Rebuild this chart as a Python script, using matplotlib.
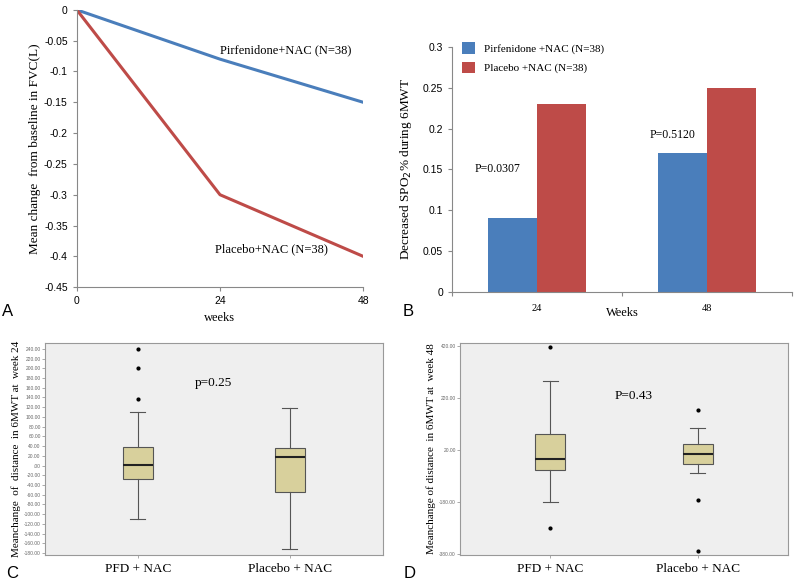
import matplotlib
matplotlib.use("Agg")
import matplotlib.pyplot as plt
import numpy as np

# Panel A: mean change in FVC (L)
weeks = [0, 24, 48]
fvc_pfd = [0, -0.08, -0.15]
fvc_placebo = [0, -0.30, -0.40]

# Panel B: decreased SpO2 % during 6MWT
spo2_weeks = ["24", "48"]
spo2_pfd = [0.09, 0.17]
spo2_placebo = [0.23, 0.25]
spo2_pvals = ["P=0.0307", "P=0.5120"]

# Panel C / D: box plots (whislo, q1, med, q3, whishi, outliers)
groups = ["PFD + NAC", "Placebo + NAC"]
w24_pfd = [-111, -28, 2, 38, 110, [137, 201, 240]]
w24_placebo = [-171, -55, 17, 37, 119, []]
w48_pfd = [-180, -58, -15, 80, 284, [417, -280]]
w48_placebo = [-68, -35, 5, 43, 103, [174, -174, -367]]

BLUE = "#4a7ebb"
RED = "#be4b48"
SERIF = "Liberation Serif"
SANS = "Liberation Sans"

fig = plt.figure(figsize=(8, 5.79), dpi=100)

# ---- A ----
axA = fig.add_axes([0.096, 0.504, 0.358, 0.479])
axA.plot(weeks, fvc_pfd, color=BLUE, lw=2.2)
axA.plot(weeks, fvc_placebo, color=RED, lw=2.2)
axA.set_xlim(0, 48)
axA.set_ylim(-0.45, 0)
axA.set_yticks(np.arange(-0.45, 0.001, 0.05))
axA.set_yticklabels(["-0.45", "-0.4", "-0.35", "-0.3", "-0.25", "-0.2", "-0.15", "-0.1", "-0.05", "0"],
                    fontsize=7.5, family=SANS)
axA.set_xticks(weeks)
axA.set_xticklabels([str(w) for w in weeks], fontsize=7.5, family=SANS)
for s in ["top", "right"]:
    axA.spines[s].set_visible(False)
for s in ["left", "bottom"]:
    axA.spines[s].set_color("#888888")
axA.tick_params(colors="#888888", labelcolor="black", length=3)
axA.set_xlabel("weeks", fontsize=9, family=SERIF, labelpad=4)
axA.set_ylabel("Mean change  from baseline in FVC(L)", fontsize=9.5, family=SERIF, labelpad=2)
axA.text(0.73, 0.853, "Pirfenidone+NAC (N=38)", transform=axA.transAxes, ha="center",
         va="center", fontsize=9, family=SERIF)
axA.text(0.68, 0.138, "Placebo+NAC (N=38)", transform=axA.transAxes, ha="center",
         va="center", fontsize=9, family=SERIF)

# ---- B ----
axB = fig.add_axes([0.565, 0.496, 0.425, 0.423])
x = np.arange(len(spo2_weeks))
bw = 0.288
axB.bar(x - bw / 2, spo2_pfd, bw, color=BLUE, label="Pirfenidone +NAC (N=38)")
axB.bar(x + bw / 2, spo2_placebo, bw, color=RED, label="Placebo +NAC (N=38)")
axB.set_xlim(-0.5, 1.5)
axB.set_ylim(0, 0.3)
axB.set_yticks(np.arange(0, 0.301, 0.05))
axB.set_yticklabels(["0", "0.05", "0.1", "0.15", "0.2", "0.25", "0.3"], fontsize=7.5, family=SANS)
axB.set_xticks([-0.5, 0.5, 1.5])
axB.set_xticklabels([])
axB.set_xticks(x, minor=True)
axB.set_xticklabels(spo2_weeks, minor=True, fontsize=7.5, family=SERIF)
axB.tick_params(axis="x", which="minor", length=0, pad=9)
for s in ["top", "right"]:
    axB.spines[s].set_visible(False)
for s in ["left", "bottom"]:
    axB.spines[s].set_color("#888888")
axB.tick_params(colors="#888888", labelcolor="black", length=3)
axB.set_ylabel("Decreased SPO$_2$% during 6MWT", fontsize=9.5, family=SERIF, labelpad=6)
axB.text(0.5, -0.06, "Weeks", transform=axB.transAxes, ha="center", va="top",
         fontsize=9, family=SERIF)
axB.legend(loc="upper left", bbox_to_anchor=(0.0, 1.06), frameon=False,
           prop={"family": SERIF, "size": 8}, handlelength=1.2, handleheight=1.2,
           labelspacing=0.7)
axB.text(0.135, 0.5, spo2_pvals[0], transform=axB.transAxes, ha="center", va="center",
         fontsize=8.5, family=SERIF)
axB.text(0.65, 0.64, spo2_pvals[1], transform=axB.transAxes, ha="center", va="center",
         fontsize=8.5, family=SERIF)


def box_stats(vals, label):
    lo, q1, med, q3, hi, fl = vals
    return {"whislo": lo, "q1": q1, "med": med, "q3": q3, "whishi": hi,
            "fliers": fl, "label": label}


def draw_box(ax, stats_list, ylim, yticks, yticklabels, ylabel, ptext, ppos):
    ax.set_facecolor("#efefef")
    ax.bxp([box_stats(v, g) for v, g in zip(stats_list, groups)],
           positions=[1, 2], widths=0.2, patch_artist=True,
           boxprops={"facecolor": "#d8d09c", "edgecolor": "#555555", "lw": 0.8},
           medianprops={"color": "#222222", "lw": 1.5},
           whiskerprops={"color": "#555555", "lw": 0.8},
           capprops={"color": "#555555", "lw": 0.8},
           flierprops={"marker": "o", "markersize": 2, "markerfacecolor": "black",
                       "markeredgecolor": "black"})
    ax.set_xlim(0.389, 2.611)
    ax.set_ylim(*ylim)
    ax.set_yticks(yticks)
    ax.set_yticklabels(yticklabels, fontsize=3.5, family=SANS, color="#666666")
    ax.tick_params(axis="y", length=2, width=0.5, color="#888888", pad=1)
    ax.tick_params(axis="x", length=2, width=0.5, color="#888888")
    ax.set_xticks([1, 2])
    ax.set_xticklabels(groups, fontsize=9.5, family=SERIF)
    for s in ax.spines.values():
        s.set_color("#999999")
    ax.set_ylabel(ylabel, fontsize=8, family=SERIF, labelpad=2)
    ax.text(ppos[0], ppos[1], ptext, transform=ax.transAxes, ha="center", va="center",
            fontsize=9.5, family=SERIF)


def fmt(v):
    return ".00" if v == 0 else f"{v:.2f}"


axC = fig.add_axes([0.056, 0.0415, 0.4225, 0.366])
c_ticks = list(range(-180, 241, 20))
draw_box(axC, [w24_pfd, w24_placebo], (-184, 252), c_ticks, [fmt(v) for v in c_ticks],
         "Meanchange  of  distance  in 6MWT at  week 24", "p=0.25", (0.5, 0.81))

axD = fig.add_axes([0.575, 0.0415, 0.41, 0.366])
d_ticks = [-380, -180, 20, 220, 420]
draw_box(axD, [w48_pfd, w48_placebo], (-384, 432), d_ticks, [fmt(v) for v in d_ticks],
         "Meanchange of distance  in 6MWT at  week 48", "P=0.43", (0.53, 0.75))

# panel letters
for lab, (px, py) in zip("ABCD", [(8, 312), (408, 312), (12, 573), (410, 573)]):
    fig.text(px / 800, 1 - py / 579, lab, fontsize=12, family=SANS, ha="center", va="center")

fig.savefig("out.png", dpi=100)
